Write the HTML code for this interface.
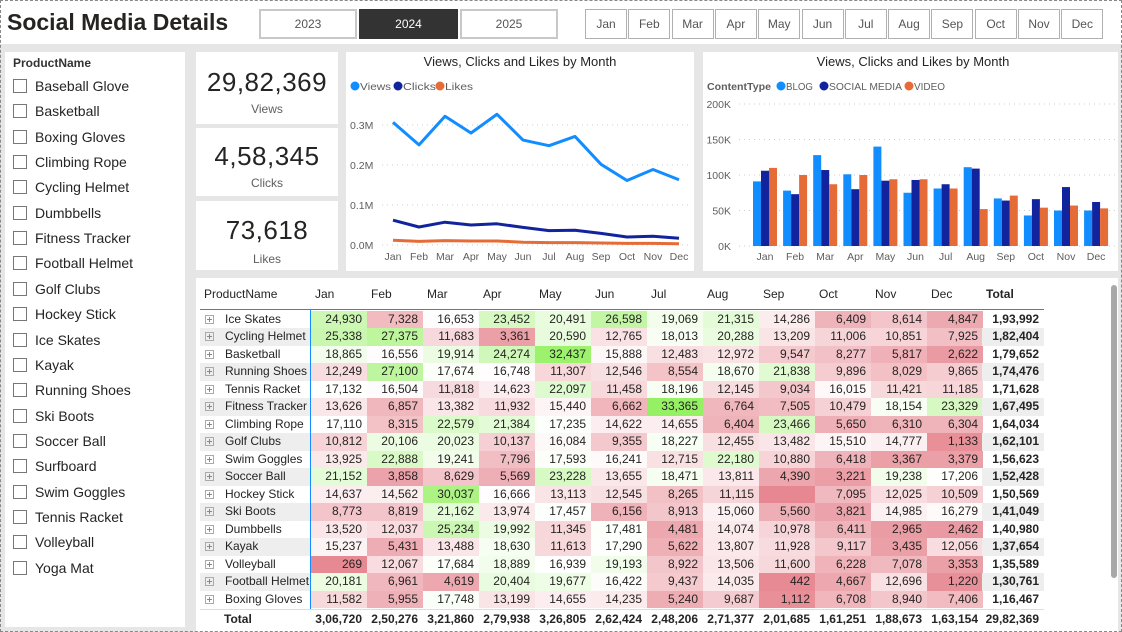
<!DOCTYPE html>
<html><head><meta charset="utf-8">
<style>
*{box-sizing:border-box;margin:0;padding:0}
body{width:1122px;height:632px;background:#e6e6e6;font-family:"Liberation Sans",sans-serif;position:relative;overflow:hidden;color:#252423}
.abs{position:absolute}
.white{background:#fff}
.btn{position:absolute;top:9px;height:30px;border:1px solid #b0b0b0;background:#fff;font-size:12px;color:#555;display:flex;align-items:center;justify-content:center}
.yr{border:2px solid #c8c8c8}
.sl{position:absolute;left:13px;font-size:14px;color:#252423;display:flex;align-items:center}
.cb{width:14px;height:14px;border:1px solid #777;margin-right:8px;background:#fff}
.kpi{position:absolute;left:196px;width:142px;background:#fff;text-align:center}
.kv{font-size:26px;color:#252423;letter-spacing:0.5px}
.kl{font-size:12px;color:#605e5c}
.cell{position:absolute;height:17.5px;font-size:12px;line-height:17.5px;text-align:right;padding-right:5px;white-space:nowrap}
.exp{position:absolute;left:5px;top:4px;width:9px;height:9px;border:1px solid #aaa}
.exp:before{content:"";position:absolute;left:1px;top:3px;width:5px;height:1px;background:#888}
.exp:after{content:"";position:absolute;left:3px;top:1px;width:1px;height:5px;background:#888}
</style></head><body>
<div class="abs" style="left:0;top:0;width:1122px;height:632px;border:1px dashed #888;z-index:5;pointer-events:none"></div>
<div class="abs white" style="left:0;top:0;width:1122px;height:44px"></div>
<div class="abs" style="left:7px;top:9px;font-size:23px;font-weight:bold;color:#252423">Social Media Details</div>
<div class="btn yr" style="left:259px;width:98px">2023</div>
<div class="btn yr" style="left:359px;width:99px;background:#333;color:#fff;border-color:#333">2024</div>
<div class="btn yr" style="left:460px;width:98px">2025</div>
<div id="months"></div>

<div class="abs white" style="left:5px;top:52px;width:180px;height:575px"></div>
<div class="abs" style="left:13px;top:56px;font-size:12px;font-weight:bold;color:#333">ProductName</div>
<div id="slicer"></div>

<div class="kpi" style="top:52px;height:72px"><div class="kv" style="margin-top:15px">29,82,369</div><div class="kl" style="margin-top:4px">Views</div></div>
<div class="kpi" style="top:128px;height:68px"><div class="kv" style="margin-top:13px">4,58,345</div><div class="kl" style="margin-top:4px">Clicks</div></div>
<div class="kpi" style="top:201px;height:69px"><div class="kv" style="margin-top:14px">73,618</div><div class="kl" style="margin-top:6px">Likes</div></div>

<svg class="abs" style="left:346px;top:52px" width="348" height="219" id="lc"></svg>
<svg class="abs" style="left:703px;top:52px" width="415" height="219" id="bc"></svg>

<div class="abs white" style="left:196px;top:278px;width:922px;height:354px"></div>
<div class="abs" style="left:1111px;top:285px;width:6px;height:293px;background:#a8a8a8;border-radius:3px"></div>
<div id="tbl"></div>

<script>
const NS='http://www.w3.org/2000/svg';
const months=['Jan','Feb','Mar','Apr','May','Jun','Jul','Aug','Sep','Oct','Nov','Dec'];
const products=['Baseball Glove','Basketball','Boxing Gloves','Climbing Rope','Cycling Helmet','Dumbbells','Fitness Tracker','Football Helmet','Golf Clubs','Hockey Stick','Ice Skates','Kayak','Running Shoes','Ski Boots','Soccer Ball','Surfboard','Swim Goggles','Tennis Racket','Volleyball','Yoga Mat'];
const views=[306720,250276,321860,279938,326805,262424,248206,271377,201685,161251,188673,163154];
const clicks=[62000,45000,57000,50000,53000,44000,36000,37000,29000,20000,22000,17000];
const likes=[12000,9000,11000,10000,10000,7000,6000,6000,5000,4000,4000,3000];
const lineTicks=[0,100000,200000,300000];
const lineTickLabels=['0.0M','0.1M','0.2M','0.3M'];
const blog=[91000,78000,128000,101000,140000,75000,81000,111000,67000,43000,50000,50000];
const social=[106000,73000,107000,80000,92000,93000,87000,109000,64000,66000,83000,62000];
const video=[110000,100000,87000,100000,94000,94000,81000,52000,71000,54000,57000,53000];
const barTicks=[0,50000,100000,150000,200000];
const barTickLabels=['0K','50K','100K','150K','200K'];
const rowNames=['Ice Skates','Cycling Helmet','Basketball','Running Shoes','Tennis Racket','Fitness Tracker','Climbing Rope','Golf Clubs','Swim Goggles','Soccer Ball','Hockey Stick','Ski Boots','Dumbbells','Kayak','Volleyball','Football Helmet','Boxing Gloves'];
const rowValues=[
[24930,7328,16653,23452,20491,26598,19069,21315,14286,6409,8614,4847],
[25338,27375,11683,3361,20590,12765,18013,20288,13209,11006,10851,7925],
[18865,16556,19914,24274,32437,15888,12483,12972,9547,8277,5817,2622],
[12249,27100,17674,16748,11307,12546,8554,18670,21838,9896,8029,9865],
[17132,16504,11818,14623,22097,11458,18196,12145,9034,16015,11421,11185],
[13626,6857,13382,11932,15440,6662,33365,6764,7505,10479,18154,23329],
[17110,8315,22579,21384,17235,14622,14655,6404,23466,5650,6310,6304],
[10812,20106,20023,10137,16084,9355,18227,12455,13482,15510,14777,1133],
[13925,22888,19241,7796,17593,16241,12715,22180,10880,6418,3367,3379],
[21152,3858,8629,5569,23228,13655,18471,13811,4390,3221,19238,17206],
[14637,14562,30037,16666,13113,12545,8265,11115,null,7095,12025,10509],
[8773,8819,21162,13974,17457,6156,8913,15060,5560,3821,14985,16279],
[13520,12037,25234,19992,11345,17481,4481,14074,10978,6411,2965,2462],
[15237,5431,13488,18630,11613,17290,5622,13807,11928,9117,3435,12056],
[269,12067,17684,18889,16939,19193,8922,13506,11600,6228,7078,3353],
[20181,6961,4619,20404,19677,16422,9437,14035,442,4667,12696,1220],
[11582,5955,17748,13199,14655,14235,5240,9687,1112,6708,8940,7406]];
const rowTotals=[193992,182404,179652,174476,171628,167495,164034,162101,156623,152428,150569,141049,140980,137654,135589,130761,116467];
const colTotals=[306720,250276,321860,279938,326805,262424,248206,271377,201685,161251,188673,163154];
const grandTotal=2982369;

function el(tag,attrs,parent){const e=document.createElementNS(NS,tag);for(const k in attrs)e.setAttribute(k,attrs[k]);parent.appendChild(e);return e;}
function inr(n){let s=String(n);if(s.length<=3)return s;let last=s.slice(-3),rest=s.slice(0,-3);rest=rest.replace(/\B(?=(\d{2})+(?!\d))/g,',');return rest+','+last;}

const mc=document.getElementById('months');
months.forEach((m,i)=>{const d=document.createElement('div');d.className='btn';d.style.left=(585+i*43.3)+'px';d.style.width='42px';d.textContent=m;


mc.appendChild(d);});

const sc=document.getElementById('slicer');
products.forEach((p,i)=>{const d=document.createElement('div');d.className='sl';d.style.top=(78+i*25.35)+'px';d.innerHTML='<span class="cb"></span>'+p;


sc.appendChild(d);});

(function(){
const s=document.getElementById('lc');
el('rect',{x:0,y:0,width:348,height:219,fill:'#fff'},s);
const t=el('text',{x:174,y:14,'text-anchor':'middle','font-size':13,fill:'#252423'},s);t.textContent='Views, Clicks and Likes by Month';

const leg=[['Views','#118dff',4,31],['Clicks','#12239e',47,33],['Likes','#e66c37',89,28]];
leg.forEach(l=>{const g=el('g',{},s);


el('circle',{cx:l[2]+5,cy:34,r:4.5,fill:l[1]},g);const tx=el('text',{x:l[2]+10,y:38,'font-size':10.5,fill:'#605e5c',textLength:l[3],lengthAdjust:'spacingAndGlyphs'},g);tx.textContent=l[0];});
const x0=47,x1=333,y0=193,yk=120/300000;
const X=i=>x0+i*(x1-x0)/11, Y=v=>y0-v*yk;
lineTicks.forEach((v,i)=>{el('line',{x1:36,x2:345,y1:Y(v),y2:Y(v),stroke:'#ccc','stroke-dasharray':'1,4'},s);
const tx=el('text',{x:4,y:Y(v)+4,'font-size':10.5,fill:'#605e5c'},s);tx.textContent=lineTickLabels[i];
});
months.forEach((m,i)=>{const tx=el('text',{x:X(i),y:208,'text-anchor':'middle','font-size':10.5,fill:'#605e5c'},s);tx.textContent=m;});
[[views,'#118dff','views-line'],[clicks,'#12239e','clicks-line'],[likes,'#e66c37','likes-line']].forEach(a=>{
const p=el('polyline',{points:a[0].map((v,i)=>X(i)+','+Y(v)).join(' '),fill:'none',stroke:a[1],'stroke-width':3,'stroke-linejoin':'round'},s);
});
})();

(function(){
const s=document.getElementById('bc');
el('rect',{x:0,y:0,width:415,height:219,fill:'#fff'},s);
const t=el('text',{x:210,y:14,'text-anchor':'middle','font-size':13,fill:'#252423'},s);t.textContent='Views, Clicks and Likes by Month';

const lt=el('text',{x:4,y:38,'font-size':10.5,'font-weight':'bold',fill:'#605e5c',textLength:64,lengthAdjust:'spacingAndGlyphs'},s);lt.textContent='ContentType';
const leg=[['BLOG','#118dff',73,27],['SOCIAL MEDIA','#12239e',116,73],['VIDEO','#e66c37',201,31]];
leg.forEach(l=>{const g=el('g',{},s);


el('circle',{cx:l[2]+5,cy:34,r:4.5,fill:l[1]},g);const tx=el('text',{x:l[2]+10,y:38,'font-size':10.5,fill:'#605e5c',textLength:l[3],lengthAdjust:'spacingAndGlyphs'},g);tx.textContent=l[0];});
const y0=194,yk=142/200000,c0=62,step=30.1;
const Y=v=>y0-v*yk;
barTicks.forEach((v,i)=>{el('line',{x1:36,x2:412,y1:Y(v),y2:Y(v),stroke:'#ccc','stroke-dasharray':'1,4'},s);
const tx=el('text',{x:28,y:Y(v)+4,'text-anchor':'end','font-size':10.5,fill:'#605e5c'},s);tx.textContent=barTickLabels[i];});
months.forEach((m,i)=>{const tx=el('text',{x:c0+i*step,y:208,'text-anchor':'middle','font-size':10.5,fill:'#605e5c'},s);tx.textContent=m;});
[[blog,'#118dff',-12],[social,'#12239e',-4],[video,'#e66c37',4]].forEach((a,k)=>{
a[0].forEach((v,i)=>{const r=el('rect',{x:c0+i*step+a[2],y:Y(v),width:8,height:v*yk,fill:a[1]},s);

});});
})();

(function(){
const tb=document.getElementById('tbl');
function cell(x,y,w,txt,bg,extra){const d=document.createElement('div');d.className='cell';d.style.left=x+'px';d.style.top=y+'px';d.style.width=w+'px';if(bg)d.style.background=bg;d.textContent=txt;if(extra)Object.assign(d.style,extra);tb.appendChild(d);return d;}
function color(v){if(v==null)v=0;const mid=17000;let r,g,b;
if(v<mid){const f=(mid-v)/mid;r=255-f*25;g=255-f*120;b=255-f*110;}
else{const f=Math.min(1,(v-mid)/(33400-mid));r=255-f*105;g=255-f*15;b=255-f*155;}
return 'rgb('+Math.round(r)+','+Math.round(g)+','+Math.round(b)+')';}
const cx=i=>310+i*56;
const h=cell(204,286,110,'ProductName',null,{textAlign:'left',fontSize:'12px'});

months.forEach((m,i)=>{const c=cell(cx(i)+5,286,56,m,null,{textAlign:'left'});
});
const th=cell(982,286,62,'Total',null,{textAlign:'left',fontWeight:'bold',paddingLeft:'4px'});


const line=document.createElement('div');line.style.cssText='position:absolute;left:200px;top:309px;width:844px;height:1px;background:#118dff';tb.appendChild(line);
const vline=document.createElement('div');vline.style.cssText='position:absolute;left:310px;top:309px;width:1px;height:300px;background:#118dff';tb.appendChild(vline);
rowNames.forEach((n,r)=>{const y=310.5+r*17.5;const alt=r%2==1?'#eeeeee':null;
const nc=cell(200,y,110,'',alt,{textAlign:'left',paddingLeft:'25px'});
nc.innerHTML='<span class="exp"></span>'+n;


rowValues[r].forEach((v,i)=>{const c=cell(cx(i)+1,y,56,v==null?'':inr(v),color(v));
});
const t=cell(982,y,62,inr(rowTotals[r]),alt,{fontWeight:'bold'});
});
const ty=611;
const tl=document.createElement('div');tl.style.cssText='position:absolute;left:200px;top:609px;width:844px;height:1px;background:#ddd';tb.appendChild(tl);
const tn=cell(200,ty,110,'Total',null,{textAlign:'left',fontWeight:'bold',paddingLeft:'24px'});

colTotals.forEach((v,i)=>{const c=cell(cx(i)+1,ty,56,inr(v),null,{fontWeight:'bold'});
});
const g=cell(982,ty,62,inr(grandTotal),null,{fontWeight:'bold'});

})();
</script>
</body></html>
